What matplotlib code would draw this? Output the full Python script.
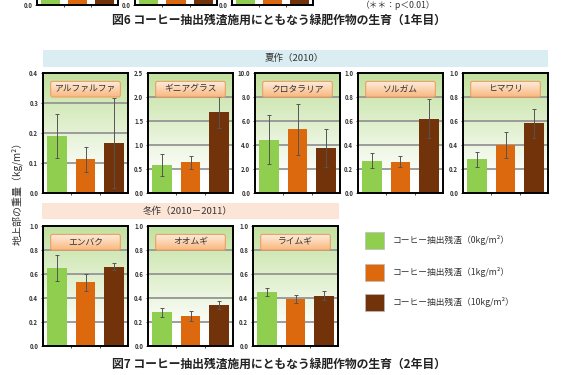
import numpy as np
import matplotlib
matplotlib.use("Agg")
import matplotlib.pyplot as plt
from matplotlib.patches import FancyBboxPatch, Rectangle

plt.rcParams['font.family'] = ['Noto Sans CJK JP', 'DejaVu Sans']

W, H = 563, 375

# ---------------- data ----------------
treatments = ["コーヒー抽出残渣（0kg/m²）", "コーヒー抽出残渣（1kg/m²）", "コーヒー抽出残渣（10kg/m²）"]
colors = ["#8fce4e", "#dc690e", "#72330a"]

summer_crops = ["アルファルファ", "ギニアグラス", "クロタラリア", "ソルガム", "ヒマワリ"]
summer_means = [[0.19, 0.113, 0.167],
                [0.58, 0.64, 1.68],
                [4.45, 5.30, 3.75],
                [0.27, 0.26, 0.62],
                [0.28, 0.40, 0.58]]
summer_errs = [[0.072, 0.042, 0.150],
               [0.23, 0.13, 0.33],
               [2.05, 2.10, 1.60],
               [0.06, 0.045, 0.16],
               [0.06, 0.11, 0.12]]
summer_ymax = [0.4, 2.5, 10.0, 1.0, 1.0]
summer_ystep = [0.1, 0.5, 2.0, 0.2, 0.2]

winter_crops = ["エンバク", "オオムギ", "ライムギ"]
winter_means = [[0.65, 0.53, 0.66],
                [0.28, 0.25, 0.34],
                [0.45, 0.39, 0.42]]
winter_errs = [[0.11, 0.07, 0.03],
               [0.035, 0.04, 0.035],
               [0.035, 0.035, 0.04]]
winter_ymax = [1.0, 1.0, 1.0]
winter_ystep = [0.2, 0.2, 0.2]

# remnants of previous figure (only bottoms visible)
fig6_means = [[0.8, 0.8, 0.8], [0.8, 0.8, 0.8], [0.8, 0.8, 0.8]]

summer_label = "夏作（2010）"
winter_label = "冬作（2010－2011）"
ylabel = "地上部の重量（kg/m²）"
caption6 = "図6 コーヒー抽出残渣施用にともなう緑肥作物の生育（1年目）"
caption7 = "図7 コーヒー抽出残渣施用にともなう緑肥作物の生育（2年目）"
sig_note = "（＊＊：p＜0.01）"

# ---------------- figure ----------------
fig = plt.figure(figsize=(W / 100, H / 100), dpi=100)
fig.patch.set_facecolor("white")


def px_axes(x0, y0, x1, y1):
    return fig.add_axes([x0 / W, 1 - y1 / H, (x1 - x0) / W, (y1 - y0) / H])


top_c = np.array([0.76, 0.88, 0.62])
bot_c = np.array([1.0, 1.0, 1.0])
t = np.linspace(0, 1, 256)
w = np.clip(1 - t * 1.15, 0, 1)
bg_img = top_c[None, None, :] * w[:, None, None] + bot_c[None, None, :] * (1 - w[:, None, None])

bx = np.linspace(0, 1, 64)
box_top = np.array([0.99, 0.93, 0.87])
box_bot = np.array([0.98, 0.72, 0.50])
box_img = box_top[None, None, :] * (1 - bx[:, None, None]) + box_bot[None, None, :] * bx[:, None, None]


def panel(ax, means, errs, ymax, ystep, title=None):
    x = np.arange(3)
    ax.imshow(bg_img, extent=[0, 1, 0, 1], transform=ax.transAxes,
              aspect="auto", zorder=0, interpolation="bilinear")
    ax.set_xlim(-0.5, 2.5)
    ax.set_ylim(0, ymax)
    ticks = np.arange(0, ymax + ystep / 2, ystep)
    for tk in ticks[1:-1]:
        ax.axhline(tk, color="#959595", lw=1.3, zorder=1)
    ax.bar(x, means, width=0.7, color=colors, zorder=2)
    if errs is not None:
        ax.errorbar(x, means, yerr=errs, fmt="none", ecolor="#555555",
                    elinewidth=0.7, capsize=1.6, capthick=0.7, zorder=3)
    ax.set_yticks(ticks)
    ax.set_yticklabels([f"{v:.1f}" for v in ticks], fontsize=4.3,
                       fontweight="bold", color="#333333")
    ax.set_xticks([0.5, 1.5])
    ax.set_xticklabels([])
    ax.tick_params(axis="y", length=1.5, width=0.5, pad=2)
    ax.tick_params(axis="x", length=1.5, width=0.5, direction="out")
    for s in ax.spines.values():
        s.set_linewidth(1.4)
        s.set_color("black")
        s.set_zorder(6)
    if title:
        bp = FancyBboxPatch((0.09, 0.80), 0.82, 0.13, boxstyle="round,pad=0,rounding_size=0.02",
                            transform=ax.transAxes, facecolor="none",
                            edgecolor="#eea060", lw=0.8, zorder=5)
        ax.add_patch(bp)
        im = ax.imshow(box_img, extent=[0.09, 0.91, 0.80, 0.93], transform=ax.transAxes,
                       aspect="auto", zorder=4, interpolation="bilinear")
        im.set_clip_path(bp)
        ax.set_xlim(-0.5, 2.5)
        ax.set_ylim(0, ymax)
        ax.text(0.5, 0.865, title, transform=ax.transAxes, ha="center", va="center",
                fontsize=6.3, color="#333333", zorder=6)


# remnants of figure 6 at top
rem_x = [(37, 118), (135, 217), (232, 313)]
for (x0, x1), m in zip(rem_x, fig6_means):
    ax = px_axes(x0, -115, x1, 5)
    panel(ax, m, None, 1.0, 0.2)
    ax.set_yticks([0])
    ax.set_yticklabels(["0.0"], fontsize=4.3, fontweight="bold", color="#333333")

fig.text(398 / W, 1 - 1 / H, sig_note, ha="center", va="top", fontsize=6.3, color="#333333")
fig.text(279 / W, 1 - 20 / H, caption6, ha="center", va="center", fontsize=8.5,
         fontweight="bold", color="#222222")

# summer band
fig.patches.append(Rectangle((43 / W, 1 - 67 / H), (548 - 43) / W, 17 / H,
                             transform=fig.transFigure, facecolor="#daedf3",
                             edgecolor="none", zorder=0))
fig.text(294 / W, 1 - 58.5 / H, summer_label, ha="center", va="center", fontsize=6.8,
         color="#333333")

summer_x = [43, 148, 255, 358, 463]
for i, x0 in enumerate(summer_x):
    ax = px_axes(x0, 73, x0 + 85, 193)
    panel(ax, summer_means[i], summer_errs[i], summer_ymax[i], summer_ystep[i],
          title=summer_crops[i])

# winter band
fig.patches.append(Rectangle((42 / W, 1 - 219 / H), (339 - 42) / W, 16 / H,
                             transform=fig.transFigure, facecolor="#fce4d6",
                             edgecolor="none", zorder=0))
fig.text(188 / W, 1 - 211 / H, winter_label, ha="center", va="center", fontsize=6.8,
         color="#333333")

winter_x = [43, 148, 253]
for i, x0 in enumerate(winter_x):
    ax = px_axes(x0, 226, x0 + 85, 346)
    panel(ax, winter_means[i], winter_errs[i], winter_ymax[i], winter_ystep[i],
          title=winter_crops[i])

# y label
fig.text(17 / W, 1 - 191 / H, ylabel, rotation=90, ha="center", va="center",
         fontsize=7.2, color="#333333")

# legend
leg_y = [240, 272, 302]
for c, lab, yy in zip(colors, treatments, leg_y):
    fig.patches.append(Rectangle((365 / W, 1 - (yy + 8.5) / H), 19 / W, 17 / H,
                                 transform=fig.transFigure, facecolor=c,
                                 edgecolor="#bbbbbb", lw=0.5))
    fig.text(393 / W, 1 - yy / H, lab, ha="left", va="center", fontsize=6.3,
             color="#333333")

fig.text(279 / W, 1 - 364 / H, caption7, ha="center", va="center", fontsize=8.5,
         fontweight="bold", color="#222222")

fig.savefig("out.png", dpi=100)
